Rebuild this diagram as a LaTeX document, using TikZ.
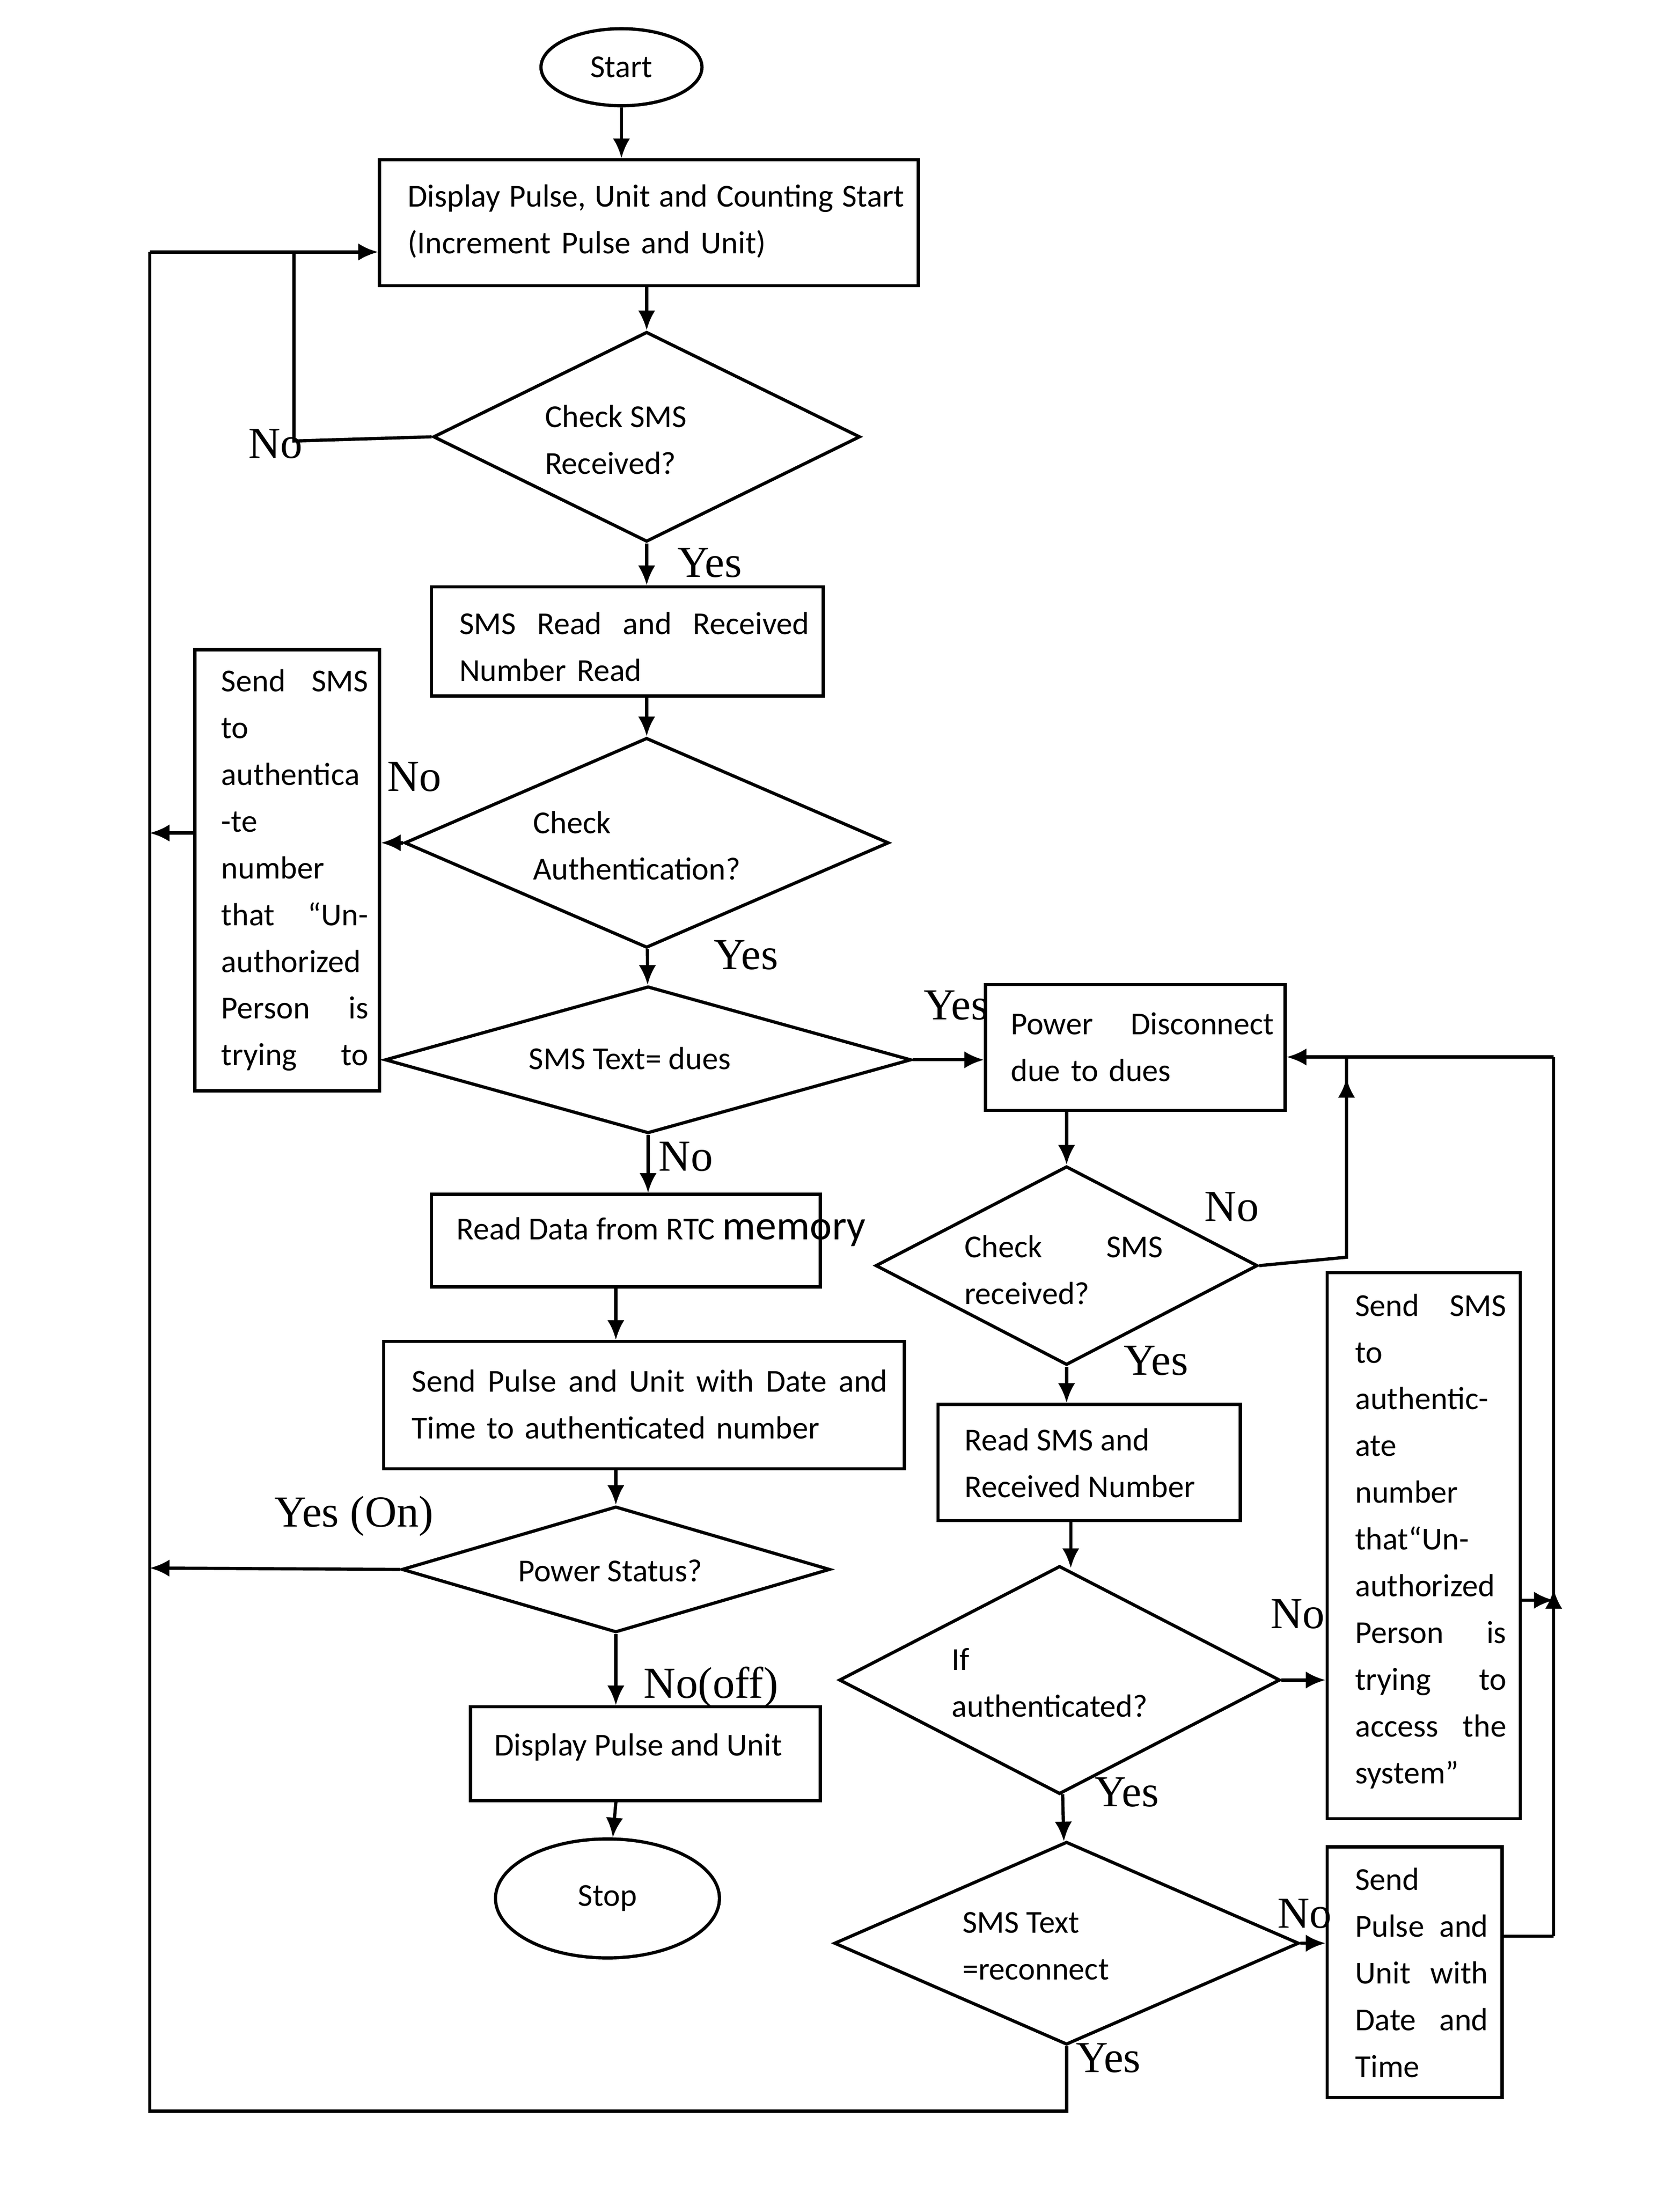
\documentclass[tikz,border=0pt]{standalone}
\usepackage{fontspec}
\setmainfont{Carlito}
\newfontfamily\lbl{Liberation Serif}
\usetikzlibrary{shapes.geometric,arrows.meta}
\begin{document}
\begin{tikzpicture}[x=0.02cm,y=-0.02cm,
  every node/.style={font=\fontsize{13}{19}\selectfont},
  box/.style={draw,line width=1.3pt,rectangle,inner sep=0pt,anchor=north west},
  dia/.style={draw,line width=1.3pt,diamond,inner sep=0pt},
  el/.style={draw,line width=1.3pt,ellipse,inner sep=0pt},
  lab/.style={font=\lbl\fontsize{18}{22}\selectfont,inner sep=0pt},
  ln/.style={line width=1.3pt},
  ar/.style={line width=1.3pt,-{Latex[length=8pt,width=7pt]}}]
\useasboundingbox (0,0) rectangle (1200,1570);
\fill[white] (0,0) rectangle (1200,1570);
% left column
\node[el,minimum width=115*0.02cm,minimum height=55*0.02cm] (start) at (444,48) {Start};
\node[box,minimum width=385*0.02cm,minimum height=90*0.02cm] (b1) at (270,113) {};
\node[align=left,anchor=west,text width=355*0.02cm] at (285,158) {Display\hfill Pulse,\hfill Unit\hfill and\hfill Counting\hfill Start\\(Increment Pulse and Unit)};
\node[dia,minimum width=305*0.02cm,minimum height=150*0.02cm] (d1) at (462,312) {};
\node[align=left] at (440,314) {Check SMS\\Received?};
\node[box,minimum width=280*0.02cm,minimum height=78*0.02cm] (b2) at (307,418) {};
\node[align=left,anchor=west,text width=250*0.02cm] at (322,462) {SMS\hfill Read\hfill and\hfill Received\\Number Read};
\node[dia,minimum width=346*0.02cm,minimum height=150*0.02cm] (d2) at (462,602) {};
\node[align=left] at (455,604) {Check\\Authentication?};
\node[box,minimum width=132*0.02cm,minimum height=315*0.02cm] (b3) at (138,463) {};
\node[anchor=north west,text width=105*0.02cm,align=left] at (152,472) {Send\hfill SMS\\to\\authentica\\-te\\number\\that\hfill ``Un-\\authorized\\Person\hfill is\\trying\hfill to};
\node[dia,minimum width=376*0.02cm,minimum height=105*0.02cm] (d3) at (463,757) {};
\node at (450,756) {SMS Text= dues};
\node[box,minimum width=278*0.02cm,minimum height=66*0.02cm] (b4) at (307,852) {};
\node[anchor=west] at (320,880) {Read Data from RTC {\fontsize{17}{17}\selectfont memory}};
\node[box,minimum width=372*0.02cm,minimum height=91*0.02cm] (b5) at (273,957) {};
\node[align=left,anchor=west,text width=340*0.02cm] at (288,1003) {Send\hfill Pulse\hfill and\hfill Unit\hfill with\hfill Date\hfill and\\Time\ to\ authenticated\ number};
\node[dia,minimum width=306*0.02cm,minimum height=90*0.02cm] (d4) at (440,1121) {};
\node at (436,1122) {Power Status?};
\node[box,minimum width=250*0.02cm,minimum height=67*0.02cm] (b6) at (335,1218) {};
\node[anchor=west] at (347,1248) {Display Pulse and Unit};
\node[el,minimum width=160*0.02cm,minimum height=85*0.02cm] (stop) at (434,1356) {Stop};
% right column
\node[box,minimum width=214*0.02cm,minimum height=90*0.02cm] (pd) at (703,702) {};
\node[align=left,anchor=west,text width=188*0.02cm] at (716,748) {Power\hfill Disconnect\\due to dues};
\node[dia,minimum width=273*0.02cm,minimum height=142*0.02cm] (d5) at (762,904) {};
\node[align=left] at (760,907) {Check\hspace{2em}SMS\\received?};
\node[box,minimum width=216*0.02cm,minimum height=83*0.02cm] (b7) at (669,1002) {};
\node[align=left,anchor=west] at (683,1045) {Read SMS and\\Received Number};
\node[dia,minimum width=315*0.02cm,minimum height=163*0.02cm] (d6) at (757,1200) {};
\node[align=left] at (750,1202) {If\\authenticated?};
\node[box,minimum width=138*0.02cm,minimum height=390*0.02cm] (b8) at (947,908) {};
\node[anchor=north west,text width=108*0.02cm,align=left] at (962,918) {Send\hfill SMS\\to\\{authentic-}\\ate\\number\\that``Un-\\authorized\\Person\hfill is\\trying\hfill to\\access\hfill the\\system''};
\node[dia,minimum width=332*0.02cm,minimum height=145*0.02cm] (d7) at (762,1388) {};
\node[align=left] at (740,1390) {SMS Text\\=reconnect};
\node[box,minimum width=125*0.02cm,minimum height=179*0.02cm] (b9) at (947,1318) {};
\node[anchor=north west,text width=95*0.02cm,align=left] at (962,1328) {Send\\Pulse\hfill and\\Unit\hfill with\\Date\hfill and\\Time};
% coordinates
\coordinate (l1) at (210,315); \coordinate (l2) at (210,180);
\coordinate (o1) at (107,1508); \coordinate (o2) at (107,180);
\coordinate (o3) at (107,595); \coordinate (o4) at (107,1120);
\coordinate (r1) at (962,898); \coordinate (r2) at (962,755);
\coordinate (r3) at (1110,1383); \coordinate (r4) at (1110,755);
\coordinate (r5) at (1110,1143); \coordinate (y1) at (757,1508);
% connectors
\draw[ar] (start) -- (b1.north -| start);
\draw[ar] (b1.south -| d1) -- (d1);
\draw[ln] (d1.west) -- (l1) -- (l2);
\draw[ar] (l2) -- (b1.west |- l2);
\draw[ln] (y1) -- (o1) -- (o2);
\draw[ar] (o2) -- (b1.west |- o2);
\draw[ar] (d1) -- (b2.north -| d1);
\draw[ar] (b2.south -| d2) -- (d2);
\draw[ar] (d2.west) -- (b3.east |- d2.west);
\draw[ar] (b3.west |- o3) -- (o3);
\draw[ar] (d2) -- (d3);
\draw[ar] (d3.east) -- (pd.west |- d3.east);
\draw[ar] (d3) -- (b4.north -| d3);
\draw[ar] (b4.south -| 440,0) -- (b5.north -| 440,0);
\draw[ar] (b5.south -| 440,0) -- (d4);
\draw[ar] (d4.west) -- (o4);
\draw[ar] (d4) -- (b6.north -| d4);
\draw[ar] (b6.south -| 440,0) -- (stop);
\draw[ar] (pd.south -| d5) -- (d5);
\draw[ln] (d5.east) -- (r1) -- (r2);
\draw[ar] (r1) -- (962,770);
\draw[ln] (r3) -- (r4);
\draw[ar] (r4) -- (pd.east |- r4);
\draw[ar] (r3) -- (1110,1135);
\draw[ar] (b8.east |- r5) -- (r5);
\draw[ar] (d5) -- (b7.north -| d5);
\draw[ar] (b7.south -| 765,0) -- (765,1120);
\draw[ar] (d6.east) -- (b8.west |- d6.east);
\draw[ar] (d6) -- (d7);
\draw[ar] (d7.east) -- (b9.west |- d7.east);
\draw[ln] (b9.east |- r3) -- (r3);
\draw[ln] (d7.south) -- (d7.south |- y1) -- (y1);
% labels
\node[lab] at (197,317) {No};
\node[lab] at (507,402) {Yes};
\node[lab] at (296,555) {No};
\node[lab] at (533,682) {Yes};
\node[lab] at (683,718) {Yes};
\node[lab] at (490,826) {No};
\node[lab] at (253,1083) {Yes (On)};
\node[lab] at (508,1205) {No(off)};
\node[lab] at (880,862) {No};
\node[lab] at (826,972) {Yes};
\node[lab] at (927,1153) {No};
\node[lab] at (805,1280) {Yes};
\node[lab] at (932,1367) {No};
\node[lab] at (792,1470) {Yes};
\end{tikzpicture}
\end{document}
